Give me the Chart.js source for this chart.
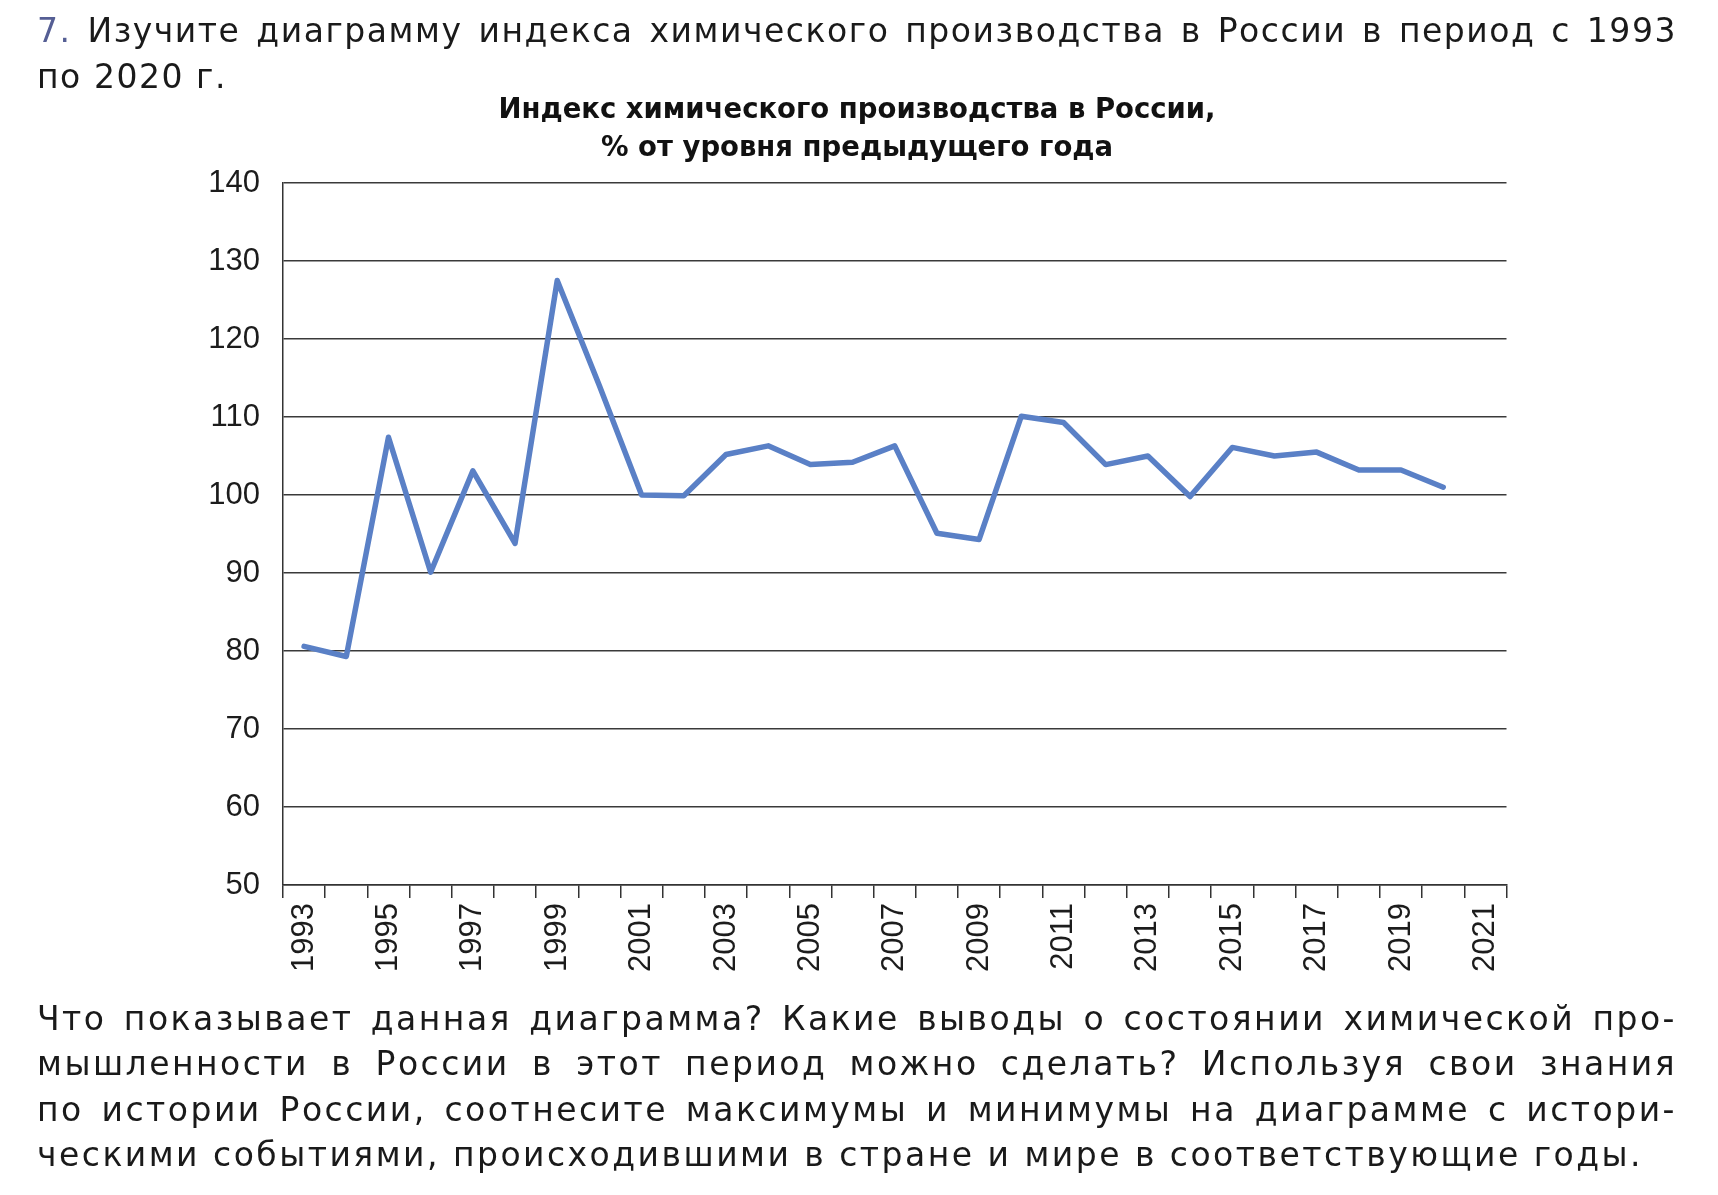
<!DOCTYPE html>
<html><head><meta charset="utf-8">
<script src="https://cdn.jsdelivr.net/npm/chart.js@4.4.1/dist/chart.umd.min.js"></script>
<style>
html,body{margin:0;padding:0;background:#fff;width:1718px;height:1195px;overflow:hidden;}
#wrap{position:absolute;left:0;top:0;width:1718px;height:1000px;}
.txt{position:absolute;left:37px;width:1640px;font-family:"DejaVu Sans","Liberation Sans",sans-serif;font-size:33px;color:#1a1a1a;}
.ln{white-space:nowrap;}
.j{text-align:justify;text-align-last:justify;white-space:normal;}
</style></head><body>
<div id="wrap"><canvas id="c"></canvas></div>
<div class="txt" id="head" style="top:8px;line-height:46px">
 <div class="ln j"><span style="color:#555e94">7.</span> Изучите диаграмму индекса химического производства в России в период с 1993</div>
 <div class="ln"><span id="hspan">по 2020 г.</span></div>
</div>
<div class="txt" id="foot" style="top:996px;line-height:45.3px">
 <div class="ln j">Что показывает данная диаграмма? Какие выводы о состоянии химической про-</div>
 <div class="ln j">мышленности в России в этот период можно сделать? Используя свои знания</div>
 <div class="ln j">по истории России, соотнесите максимумы и минимумы на диаграмме с истори-</div>
 <div class="ln"><span id="lastspan">ческими событиями, происходившими в стране и мире в соответствующие годы.</span></div>
</div>
<script>
const years = ['1993','1994','1995','1996','1997','1998','1999','2000','2001','2002','2003','2004','2005','2006','2007','2008','2009','2010','2011','2012','2013','2014','2015','2016','2017','2018','2019','2020','2021'];
const indexValues = [80.6, 79.3, 107.4, 90.1, 103.1, 93.8, 127.5, 114.0, 100.0, 99.9, 105.2, 106.3, 103.9, 104.2, 106.3, 95.1, 94.3, 110.1, 109.3, 103.9, 105.0, 99.8, 106.1, 105.0, 105.5, 103.2, 103.2, 101.0, null];
const shownYearLabels = ['1993','1995','1997','1999','2001','2003','2005','2007','2009','2011','2013','2015','2017','2019','2021'];
const yMin = 50, yMax = 140, yStep = 10;
const chartTitle = ['Индекс химического производства в России,', '% от уровня предыдущего года'];

// fit letter spacing of each text block to the reference line lengths
function fitSpacing(blockId, spanId, target) {
  const span = document.getElementById(spanId);
  const w = span.getBoundingClientRect().width;
  const n = span.textContent.length;
  const ls = Math.max(0, (target - w) / n);
  document.getElementById(blockId).style.letterSpacing = ls + 'px';
}
fitSpacing('foot', 'lastspan', 1606);
fitSpacing('head', 'hspan', 190);

const font = '"Liberation Sans", Arial, sans-serif';
new Chart(document.getElementById('c'), {
  type: 'line',
  data: {
    labels: years,
    datasets: [{
      data: indexValues,
      borderColor: '#5a80c6',
      borderWidth: 5.5,
      pointRadius: 0,
      tension: 0,
      fill: false,
      borderJoinStyle: 'round',
      borderCapStyle: 'round'
    }]
  },
  options: {
    responsive: true,
    maintainAspectRatio: false,
    animation: false,
    layout: { padding: { left: 207.5, right: 211.5, top: 0, bottom: 0 } },
    plugins: {
      legend: { display: false },
      tooltip: { enabled: false },
      title: {
        display: true,
        text: chartTitle,
        color: '#111',
        font: { family: '"DejaVu Sans", sans-serif', size: 27.5, weight: 'bold', lineHeight: 1.38 },
        padding: { top: 92.3, bottom: 14.8 }
      }
    },
    scales: {
      x: {
        type: 'category',
        offset: true,
        afterFit: s => { s.height = 115; },
        grid: { display: true, drawOnChartArea: false, drawTicks: true, tickLength: 13, offset: true, color: '#333', lineWidth: 1.5 },
        border: { display: true, color: '#333', width: 1.5 },
        ticks: {
          autoSkip: false, maxRotation: 90, minRotation: 90, padding: 5,
          color: '#1c1c1c', font: { family: font, size: 31 },
          callback: function(v, i) { const l = years[i]; return shownYearLabels.includes(l) ? l : ''; }
        }
      },
      y: {
        min: yMin, max: yMax,
        afterFit: s => { s.width = 75.5; },
        grid: { drawTicks: false, color: '#3a3a3a', lineWidth: 1.5 },
        border: { display: true, color: '#333', width: 1.5 },
        ticks: { stepSize: yStep, padding: 23, color: '#1c1c1c', font: { family: font, size: 31 } }
      }
    }
  }
});
</script>
</body></html>
